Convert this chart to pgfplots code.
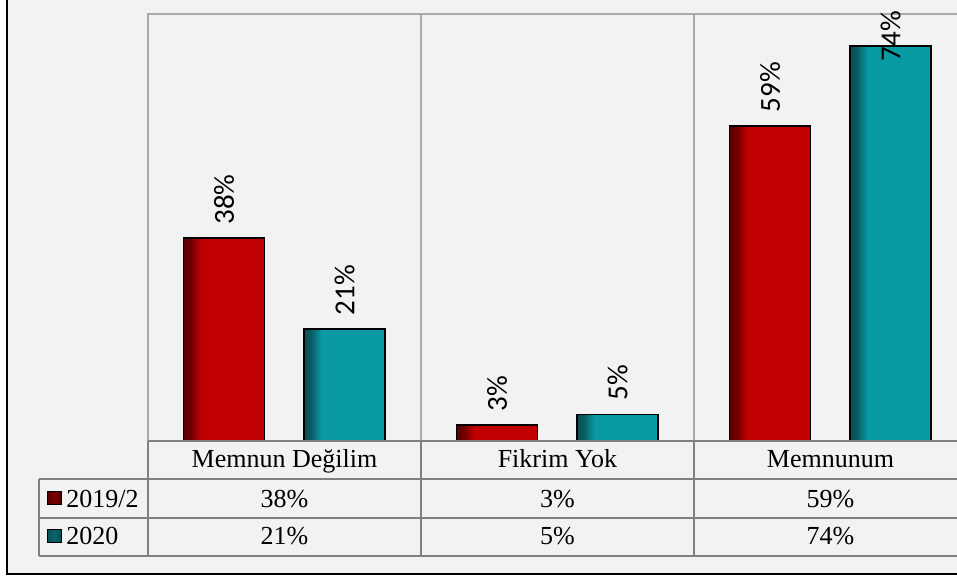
\documentclass[border=0pt]{standalone}
\usepackage{pgfplots}
\pgfplotsset{compat=1.18}
\usepackage{fontspec}
\setmainfont{Liberation Serif}
\newfontfamily\lab{Carlito}
\definecolor{bg}{HTML}{F2F2F2}
\definecolor{bred}{HTML}{C00000}
\definecolor{dred}{HTML}{5A0000}
\definecolor{bteal}{HTML}{0A9AA4}
\definecolor{dteal}{HTML}{0A4F55}
\definecolor{gridg}{HTML}{ABABAB}
\definecolor{tabg}{HTML}{808080}
\pgfdeclarehorizontalshading{redbar}{100bp}{color(0bp)=(dred); color(25bp)=(dred); color(29bp)=(dred!85!bred); color(36bp)=(bred); color(100bp)=(bred)}
\pgfdeclarehorizontalshading{tealbar}{100bp}{color(0bp)=(dteal); color(25bp)=(dteal); color(29bp)=(dteal!85!bteal); color(36bp)=(bteal); color(100bp)=(bteal)}
\pgfdeclarehorizontalshading{redkey}{100bp}{color(0bp)=(dred); color(25bp)=(dred); color(50bp)=(dred!70!bred); color(75bp)=(dred); color(100bp)=(dred)}
\pgfdeclarehorizontalshading{tealkey}{100bp}{color(0bp)=(dteal); color(25bp)=(dteal); color(50bp)=(dteal!70!bteal); color(75bp)=(dteal); color(100bp)=(dteal)}
\pgfplotsset{
  redb/.style={ybar, bar width=40.5pt, bar shift=-30.25pt, draw=black, line width=0.75pt, shade, shading=redbar,
    every node near coord/.append style={yshift=30.25pt}},
  tealb/.style={ybar, bar width=40.5pt, bar shift=30pt, draw=black, line width=0.75pt, shade, shading=tealbar,
    every node near coord/.append style={yshift=-30pt}},
}
\begin{document}
\begin{tikzpicture}
\useasboundingbox (0,0) rectangle (478.5pt,289pt);
\clip (0,0) rectangle (478.5pt,289pt);
\fill[white] (0,0) rectangle (478.5pt,289pt);
\begin{scope}[x=0.5pt,y=-0.5pt,yshift=289pt]
\fill[bg] (7,-10) rectangle (1000,574);
\draw[black,line width=1pt] (7,-10) -- (7,574) -- (1000,574);
\end{scope}
\begin{axis}[
  at={(74pt,68.5pt)}, anchor=south west, scale only axis,
  width=409.5pt, height=213.5pt,
  xmin=-0.5, xmax=2.5, ymin=0, ymax=80,
  xtick={0,1,2}, xticklabels={Memnun Değilim, Fikrim Yok, Memnunum},
  ytick=\empty, major tick length=0pt,
  extra x ticks={0.5,1.5}, extra x tick labels={},
  extra x tick style={grid=major, major tick length=0pt},
  major grid style={draw=gridg, line width=1pt},
  axis line style={draw=gridg, line width=1pt},
  xticklabel style={font=\fontsize{13}{15}\selectfont, anchor=base, yshift=-13pt},
  /pgf/number format/assume math mode=true,
  nodes near coords={\pgfmathprintnumber{\pgfplotspointmeta}\%},
  every node near coord/.append style={font=\lab\fontsize{14.5}{16}\selectfont, rotate=90, anchor=west, inner xsep=6.5pt, inner ysep=0pt, text=black},
  clip=false,
]
% 2019/2
\addplot[redb] coordinates {(0,38)};
\addplot[redb] coordinates {(1,3)};
\addplot[redb] coordinates {(2,59)};
% 2020
\addplot[tealb] coordinates {(0,21)};
\addplot[tealb] coordinates {(1,5)};
\addplot[tealb, every node near coord/.append style={anchor=east, inner xsep=0pt, xshift=17.8pt}] coordinates {(2,74)};
\end{axis}
\begin{scope}[x=0.5pt,y=-0.5pt,yshift=289pt]
\draw[tabg,line width=0.8pt] (148,441) -- (1000,441);
\draw[tabg,line width=0.8pt] (39,479) -- (1000,479);
\draw[tabg,line width=0.8pt] (39,518) -- (1000,518);
\draw[tabg,line width=0.8pt] (39,556) -- (1000,556);
\draw[tabg,line width=0.8pt] (39,479) -- (39,556);
\draw[tabg,line width=0.8pt] (148,441) -- (148,556);
\draw[tabg,line width=0.8pt] (421,441) -- (421,556);
\draw[tabg,line width=0.8pt] (694,441) -- (694,556);
\draw[tabg,line width=0.8pt] (967,441) -- (967,556);
\shade[shading=redkey,draw=black,line width=0.5pt] (47,491) rectangle (61,504);
\shade[shading=tealkey,draw=black,line width=0.5pt] (47,529) rectangle (61,542);
\begin{scope}[every node/.style={font=\fontsize{13}{15}\selectfont, inner sep=0pt}]
\node[anchor=base west] at (66,507) {2019/2};
\node[anchor=base west] at (66,544.5) {2020};
\node[anchor=base] at (284.5,507) {38\%};
\node[anchor=base] at (557.5,507) {3\%};
\node[anchor=base] at (830.5,507) {59\%};
\node[anchor=base] at (284.5,544.5) {21\%};
\node[anchor=base] at (557.5,544.5) {5\%};
\node[anchor=base] at (830.5,544.5) {74\%};
\end{scope}
\end{scope}
\end{tikzpicture}
\end{document}
